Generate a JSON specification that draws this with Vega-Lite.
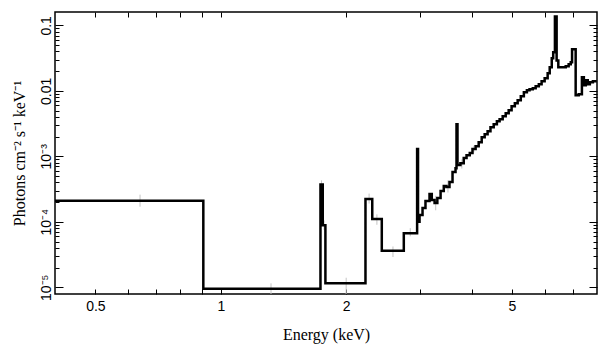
{
  "$schema": "https://vega.github.io/schema/vega-lite/v6.json",
  "width": 542,
  "height": 282,
  "autosize": {"type": "none"},
  "padding": {"left": 55, "top": 12, "right": 12, "bottom": 63},
  "background": "white",
  "config": {
    "view": {"stroke": "black", "strokeWidth": 1.5},
    "axis": {"domain": false, "grid": false, "tickColor": "black", "tickWidth": 1, "labelColor": "black", "titleColor": "black"}
  },
  "datasets": {
    "spec": [
      {"E": 0.4, "F": 2.1e-4},
      {"E": 0.908, "F": 9.5e-6},
      {"E": 1.735, "F": 3.7e-4},
      {"E": 1.757, "F": 8.9e-5},
      {"E": 1.783, "F": 1.15e-5},
      {"E": 2.225, "F": 2.23e-4},
      {"E": 2.31, "F": 1.1e-4},
      {"E": 2.435, "F": 3.6e-5},
      {"E": 2.75, "F": 6.7e-5},
      {"E": 2.96, "F": 1.29e-3},
      {"E": 2.975, "F": 1.0e-4},
      {"E": 3.0, "F": 1.27e-4},
      {"E": 3.05, "F": 1.62e-4},
      {"E": 3.1, "F": 2.07e-4},
      {"E": 3.17, "F": 2.65e-4},
      {"E": 3.21, "F": 2.15e-4},
      {"E": 3.26, "F": 1.94e-4},
      {"E": 3.31, "F": 2.31e-4},
      {"E": 3.37, "F": 2.95e-4},
      {"E": 3.43, "F": 3.52e-4},
      {"E": 3.48, "F": 3.39e-4},
      {"E": 3.54, "F": 4.04e-4},
      {"E": 3.6, "F": 5.74e-4},
      {"E": 3.66, "F": 6.6e-4},
      {"E": 3.68, "F": 3.1e-3},
      {"E": 3.7, "F": 7.35e-4},
      {"E": 3.76, "F": 7.87e-4},
      {"E": 3.83, "F": 9.4e-4},
      {"E": 3.89, "F": 1.04e-3},
      {"E": 3.96, "F": 1.12e-3},
      {"E": 4.02, "F": 1.29e-3},
      {"E": 4.09, "F": 1.43e-3},
      {"E": 4.16, "F": 1.64e-3},
      {"E": 4.23, "F": 1.96e-3},
      {"E": 4.3, "F": 2.18e-3},
      {"E": 4.37, "F": 2.42e-3},
      {"E": 4.44, "F": 2.79e-3},
      {"E": 4.52, "F": 3.1e-3},
      {"E": 4.6, "F": 3.44e-3},
      {"E": 4.67, "F": 3.69e-3},
      {"E": 4.75, "F": 4.1e-3},
      {"E": 4.83, "F": 4.56e-3},
      {"E": 4.91, "F": 5.06e-3},
      {"E": 4.99, "F": 5.82e-3},
      {"E": 5.08, "F": 6.47e-3},
      {"E": 5.16, "F": 7.19e-3},
      {"E": 5.25, "F": 8.28e-3},
      {"E": 5.34, "F": 9.53e-3},
      {"E": 5.43, "F": 1.02e-2},
      {"E": 5.51, "F": 1.06e-2},
      {"E": 5.61, "F": 1.1e-2},
      {"E": 5.7, "F": 1.18e-2},
      {"E": 5.8, "F": 1.26e-2},
      {"E": 5.89, "F": 1.4e-2},
      {"E": 5.99, "F": 1.56e-2},
      {"E": 6.09, "F": 1.85e-2},
      {"E": 6.16, "F": 2.29e-2},
      {"E": 6.23, "F": 3.14e-2},
      {"E": 6.28, "F": 3.89e-2},
      {"E": 6.34, "F": 0.137},
      {"E": 6.4, "F": 2.9e-2},
      {"E": 6.46, "F": 2.29e-2},
      {"E": 6.59, "F": 2.29e-2},
      {"E": 6.73, "F": 2.37e-2},
      {"E": 6.84, "F": 2.54e-2},
      {"E": 6.92, "F": 2.73e-2},
      {"E": 6.97, "F": 4.3e-2},
      {"E": 7.11, "F": 8.57e-3},
      {"E": 7.23, "F": 8.9e-3},
      {"E": 7.36, "F": 1.61e-2},
      {"E": 7.44, "F": 1.22e-2},
      {"E": 7.52, "F": 1.45e-2},
      {"E": 7.6, "F": 1.26e-2},
      {"E": 7.69, "F": 1.35e-2},
      {"E": 7.82, "F": 1.4e-2},
      {"E": 7.99, "F": 1.4e-2}
    ],
    "err": [
      {"E": 0.64, "lo": 1.7e-4, "hi": 2.6e-4},
      {"E": 1.32, "lo": 7.5e-6, "hi": 1.15e-5},
      {"E": 1.745, "lo": 3.1e-4, "hi": 4.3e-4},
      {"E": 1.77, "lo": 7.5e-5, "hi": 1.05e-4},
      {"E": 2.0, "lo": 7.5e-6, "hi": 1.4e-5},
      {"E": 2.27, "lo": 1.9e-4, "hi": 2.7e-4},
      {"E": 2.37, "lo": 9e-5, "hi": 1.3e-4},
      {"E": 2.59, "lo": 2.9e-5, "hi": 4.2e-5},
      {"E": 2.85, "lo": 6e-5, "hi": 8e-5},
      {"E": 3.28, "lo": 1.5e-4, "hi": 2.5e-4},
      {"E": 3.51, "lo": 2.8e-4, "hi": 4.3e-4},
      {"E": 3.79, "lo": 6.5e-4, "hi": 9e-4},
      {"E": 4.05, "lo": 1.15e-3, "hi": 1.45e-3}
    ]
  },
  "layer": [
    {
      "data": {"name": "err"},
      "mark": {"type": "rule", "color": "#c4c4c4", "strokeWidth": 1, "clip": true},
      "encoding": {
        "x": {
          "field": "E", "type": "quantitative",
          "scale": {"type": "log", "domain": [0.4, 8], "nice": false},
          "axis": {"orient": "top", "title": null, "labels": false, "values": [0.5, 0.6, 0.7, 0.8, 0.9, 1, 2, 3, 4, 5, 6, 7], "tickSize": -5}
        },
        "y": {
          "field": "lo", "type": "quantitative",
          "scale": {"type": "log", "domain": [7.9e-6, 0.16], "nice": false},
          "axis": {"orient": "right", "title": null, "labels": false,
            "values": [1e-5, 2e-5, 3e-5, 4e-5, 5e-5, 6e-5, 7e-5, 8e-5, 9e-5, 1e-4, 2e-4, 3e-4, 4e-4, 5e-4, 6e-4, 7e-4, 8e-4, 9e-4, 0.001, 0.002, 0.003, 0.004, 0.005, 0.006, 0.007, 0.008, 0.009, 0.01, 0.02, 0.03, 0.04, 0.05, 0.06, 0.07, 0.08, 0.09, 0.1],
            "tickSize": {"condition": {"test": "indexof([0.00001,0.0001,0.001,0.01,0.1], datum.value) >= 0", "value": -8}, "value": -4}}
        },
        "y2": {"field": "hi"}
      }
    },
    {
      "data": {"name": "spec"},
      "mark": {"type": "line", "interpolate": "step-after", "color": "black", "strokeWidth": 2.5, "clip": true},
      "encoding": {
        "x": {
          "field": "E", "type": "quantitative",
          "scale": {"type": "log", "domain": [0.4, 8], "nice": false},
          "axis": {"orient": "bottom", "title": "Energy (keV)",
            "values": [0.5, 0.6, 0.7, 0.8, 0.9, 1, 2, 3, 4, 5, 6, 7],
            "labelExpr": "datum.value==0.5?'0.5':datum.value==1?'1':datum.value==2?'2':datum.value==5?'5':''",
            "tickSize": -5, "labelPadding": 10, "labelFont": "Liberation Sans", "labelFontSize": 14,
            "titleFont": "Liberation Serif", "titleFontSize": 16, "titleFontWeight": "normal", "titlePadding": 13}
        },
        "y": {
          "field": "F", "type": "quantitative",
          "scale": {"type": "log", "domain": [7.9e-6, 0.16], "nice": false},
          "axis": {"orient": "left", "title": "Photons cm⁻² s⁻¹ keV⁻¹",
            "values": [1e-5, 2e-5, 3e-5, 4e-5, 5e-5, 6e-5, 7e-5, 8e-5, 9e-5, 1e-4, 2e-4, 3e-4, 4e-4, 5e-4, 6e-4, 7e-4, 8e-4, 9e-4, 0.001, 0.002, 0.003, 0.004, 0.005, 0.006, 0.007, 0.008, 0.009, 0.01, 0.02, 0.03, 0.04, 0.05, 0.06, 0.07, 0.08, 0.09, 0.1],
            "labelExpr": "datum.value==0.1?'0.1':datum.value==0.01?'0.01':datum.value==0.001?'10⁻³':datum.value==0.0001?'10⁻⁴':datum.value==0.00001?'10⁻⁵':''",
            "tickSize": {"condition": {"test": "indexof([0.00001,0.0001,0.001,0.01,0.1], datum.value) >= 0", "value": -8}, "value": -4},
            "labelAngle": -90, "labelAlign": "center", "labelBaseline": "bottom", "labelPadding": 10,
            "labelFont": "Liberation Sans", "labelFontSize": 14,
            "titleFont": "Liberation Serif", "titleFontSize": 16, "titleFontWeight": "normal", "titlePadding": 12}
        }
      }
    }
  ],
  "resolve": {"axis": {"x": "independent", "y": "independent"}}
}
